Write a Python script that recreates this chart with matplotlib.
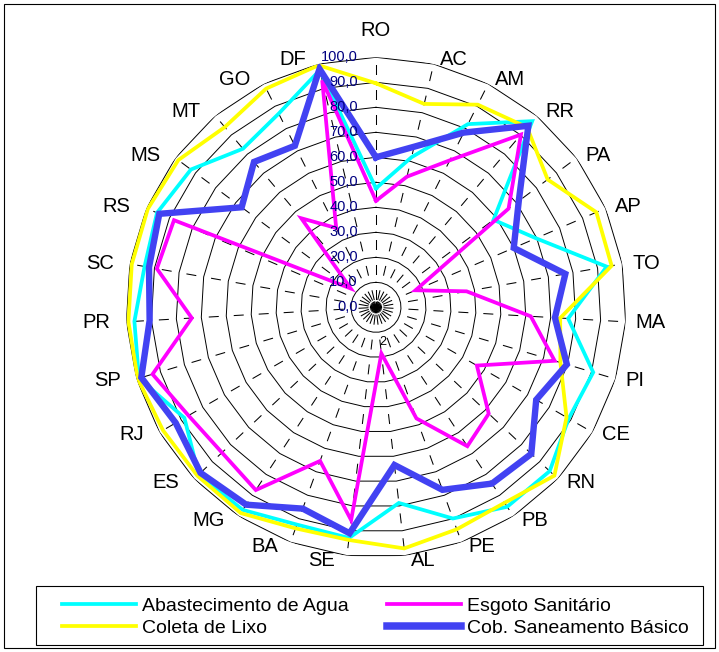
import numpy as np
import matplotlib.pyplot as plt
from matplotlib.lines import Line2D
from matplotlib.patches import Rectangle

plt.rcParams['font.family'] = ['Liberation Sans', 'DejaVu Sans']
plt.rcParams['lines.scale_dashes'] = False

# Cobertura dos servicos de saneamento por estado (%)
estados = ['RO', 'AC', 'AM', 'RR', 'PA', 'AP', 'TO', 'MA', 'PI', 'CE', 'RN', 'PB', 'PE', 'AL',
           'SE', 'BA', 'MG', 'ES', 'RJ', 'SP', 'PR', 'SC', 'RS', 'MS', 'MT', 'GO', 'DF']

agua = [47.6, 61.7, 82.0, 97.2, 58.6, 69.7, 93.7, 77.0, 90.7, 89.0, 95.5, 95.5, 89.9, 78.8,
        92.9, 92.5, 97.0, 97.5, 88.5, 99.0, 96.8, 94.0, 95.4, 92.3, 82.8, 86.7, 97.5]
esgoto = [42.6, 53.7, 65.8, 90.2, 66.1, 17.2, 36.8, 62.0, 74.6, 46.6, 62.0, 66.5, 47.3, 18.6,
          85.7, 65.4, 87.5, 84.7, 86.6, 93.3, 73.8, 89.0, 88.0, 12.6, 46.5, 35.5, 93.3]
lixo = [89.6, 83.6, 90.7, 94.0, 85.6, 96.0, 95.7, 73.8, 77.0, 88.0, 98.1, 93.6, 94.5, 97.1,
        93.7, 94.1, 98.5, 98.2, 98.4, 99.5, 99.2, 99.2, 99.4, 98.6, 94.1, 97.9, 99.5]
saneamento = [60.0, 66.0, 78.2, 94.8, 71.2, 60.0, 76.9, 71.7, 79.7, 74.0, 85.4, 84.4, 77.7, 63.5,
              91.0, 85.7, 94.5, 96.5, 92.5, 98.0, 90.7, 92.2, 94.4, 67.0, 75.9, 72.3, 98.0]

# ordem de desenho: a ultima serie fica por cima
series = [
    ('Abastecimento de Agua', agua, '#00ffff', 2.7),
    ('Esgoto Sanitário', esgoto, '#ff00ff', 2.7),
    ('Coleta de Lixo', lixo, '#ffff00', 2.7),
    ('Cob. Saneamento Básico', saneamento, '#4242f2', 4.6),
]
niveis = np.arange(0, 101, 10)

W, H = 719, 652
fig = plt.figure(figsize=(W / 100, H / 100), dpi=100)
ax = fig.add_axes([126 / W, 94.7 / H, 500 / W, 500 / H], projection='polar')
ax.set_theta_zero_location('N')
ax.set_theta_direction(-1)
ax.set_ylim(0, 100)
ax.grid(False)
ax.set_xticks([])
ax.set_yticks([])
ax.spines['polar'].set_visible(False)

n = len(estados)
theta = np.arange(n) * 2 * np.pi / n
theta_c = np.append(theta, theta[0])

# aneis poligonais e eixos radiais tracejados
for v in niveis[1:]:
    ax.plot(theta_c, [v] * (n + 1), color='black', lw=0.7, zorder=1)
for t in theta:
    ax.plot([t, t], [0, 100], color='black', lw=0.75, zorder=1,
            linestyle=(12.6, (7.2, 10.8)))
    ax.plot([t, t], [0, 2.2], color='black', lw=0.9, zorder=1)

linhas = {}
for nome, vals, cor, lw in series:
    ax.plot(theta_c, np.append(vals, vals[0]), color=cor, lw=lw, zorder=3,
            solid_joinstyle='miter')
    linhas[nome] = Line2D([], [], color=cor, lw=(lw + 0.8 if lw > 4 else lw))

# rotulos do eixo de valores
for v in niveis:
    ax.annotate(f'{v:.1f}'.replace('.', ','), xy=(0, v), xytext=(-13, 0),
                textcoords='offset points', ha='right', va='center',
                fontsize=10.5, color='#000080', zorder=4)

# rotulos das categorias
for t, est in zip(theta, estados):
    s = np.sin(t)
    if abs(s) < 0.05:
        pos, ha, va = (0, 9), 'center', 'bottom'
    elif s > 0:
        pos, ha, va = (3.6, 0), 'left', 'center'
    else:
        pos, ha, va = (-8, 0), 'right', 'center'
    ax.annotate(est, xy=(t, 102), xytext=pos, textcoords='offset points',
                ha=ha, va=va, fontsize=14.5, annotation_clip=False)

ax.text(np.deg2rad(169.6), 14, '2', fontsize=9, ha='center', va='center')

# legenda em duas colunas dentro de uma caixa
ordem = ['Abastecimento de Agua', 'Coleta de Lixo', 'Esgoto Sanitário', 'Cob. Saneamento Básico']
fig.legend([linhas[k] for k in ordem], ordem, ncol=2, loc='center left',
           bbox_to_anchor=(62 / W, 1 - 617 / H), frameon=False,
           fontsize=14, handlelength=3.8, handletextpad=0.32,
           columnspacing=1.95, borderpad=0, borderaxespad=0, labelspacing=0.22)
fig.patches.append(Rectangle((36 / W, 1 - 645 / H), 667 / W, 59 / H, transform=fig.transFigure,
                             fill=False, edgecolor='black', lw=0.8))

fig.patches.append(Rectangle((4 / W, 4 / H), 711 / W, 644 / H, transform=fig.transFigure,
                             fill=False, edgecolor='black', lw=0.8))

fig.savefig('out.png', dpi=100, facecolor='white')
